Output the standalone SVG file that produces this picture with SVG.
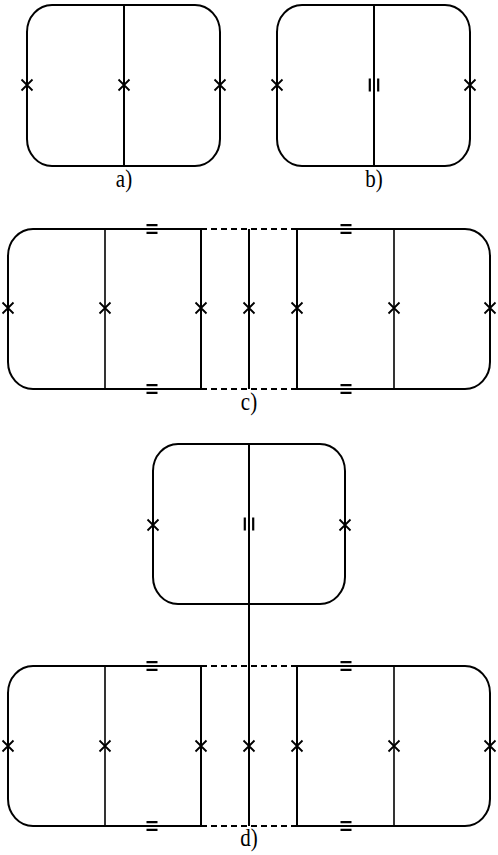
<svg xmlns="http://www.w3.org/2000/svg" width="498" height="855" viewBox="0 0 498 855">
<style>
.o{fill:none;stroke:#000;stroke-width:2}
.i{fill:none;stroke:#000;stroke-width:1.6}
.d{fill:none;stroke:#000;stroke-width:2;stroke-dasharray:6 4}
.m{fill:none;stroke:#000;stroke-width:1.8}
.b{fill:none;stroke:#000;stroke-width:2.2}
.t{font-family:"Liberation Serif","Times New Roman",serif;font-size:21px;text-anchor:middle;fill:#000}
</style>
<defs>
<path id="x" class="m" d="M-5.5,-5.5 L5.5,5.5 M-5.5,5.5 L5.5,-5.5"/>
<path id="eq" class="b" d="M-5.5,-3.8 H5.5 M-5.5,3.8 H5.5"/>
<path id="ii" class="b" d="M-4.2,-6.5 V6.5 M4.2,-6.5 V6.5"/>
</defs>

<g id="panel-a">
<rect class="o" x="27" y="5" width="193" height="161" rx="25" ry="27"/>
<line class="o" x1="124" y1="5" x2="124" y2="166"/>
<use href="#x" x="27" y="85"/><use href="#x" x="124" y="85"/><use href="#x" x="220" y="85"/>
<text class="t" transform="translate(124,187) scale(1,1.15)">a)</text>
</g>

<g id="panel-b">
<rect class="o" x="277" y="5" width="193" height="161" rx="25" ry="27"/>
<line class="o" x1="374" y1="5" x2="374" y2="166"/>
<use href="#x" x="277" y="85"/><use href="#x" x="470" y="85"/>
<use href="#ii" x="374" y="85"/>
<text class="t" transform="translate(374,187) scale(1,1.15)">b)</text>
</g>

<g id="panel-c">
<path class="o" d="M201,229 H33 A25,27 0 0 0 8,256 V362 A25,27 0 0 0 33,389 H201 Z"/>
<path class="o" d="M297,229 H465 A25,27 0 0 1 490,256 V362 A25,27 0 0 1 465,389 H297 Z"/>
<line class="i" x1="105" y1="229" x2="105" y2="389"/>
<line class="i" x1="394" y1="229" x2="394" y2="389"/>
<line class="o" x1="249" y1="229" x2="249" y2="389"/>
<use href="#x" x="8" y="308"/><use href="#x" x="105" y="308"/><use href="#x" x="201" y="308"/><use href="#x" x="249" y="308"/><use href="#x" x="297" y="308"/><use href="#x" x="394" y="308"/><use href="#x" x="490" y="308"/>
<use href="#eq" x="152" y="229"/><use href="#eq" x="346" y="229"/><use href="#eq" x="152" y="389"/><use href="#eq" x="346" y="389"/>
<text class="t" transform="translate(249,410) scale(1,1.15)">c)</text>
</g>

<g id="panel-d-top">
<rect class="o" x="153" y="444" width="192" height="160" rx="25" ry="27"/>
<use href="#x" x="153" y="525"/><use href="#x" x="345" y="525"/>
<use href="#ii" x="249" y="524"/>
</g>

<g id="panel-d-bottom">
<path class="o" d="M201,666 H33 A25,27 0 0 0 8,693 V799 A25,27 0 0 0 33,826 H201 Z"/>
<path class="o" d="M297,666 H465 A25,27 0 0 1 490,693 V799 A25,27 0 0 1 465,826 H297 Z"/>
<line class="i" x1="105" y1="666" x2="105" y2="826"/>
<line class="i" x1="394" y1="666" x2="394" y2="826"/>
<use href="#x" x="8" y="746"/><use href="#x" x="105" y="746"/><use href="#x" x="201" y="746"/><use href="#x" x="249" y="746"/><use href="#x" x="297" y="746"/><use href="#x" x="394" y="746"/><use href="#x" x="490" y="746"/>
<use href="#eq" x="152" y="666"/><use href="#eq" x="346" y="666"/><use href="#eq" x="152" y="826"/><use href="#eq" x="346" y="826"/>
<text class="t" transform="translate(249,846) scale(1,1.15)">d)</text>
</g>

<g id="connectors">
<line class="d" x1="201" y1="229" x2="297" y2="229"/>
<line class="d" x1="201" y1="389" x2="297" y2="389"/>
<line class="d" x1="201" y1="666" x2="297" y2="666"/>
<line class="d" x1="201" y1="826" x2="297" y2="826"/>
<line class="o" x1="249" y1="444" x2="249" y2="826"/>
</g>
</svg>
